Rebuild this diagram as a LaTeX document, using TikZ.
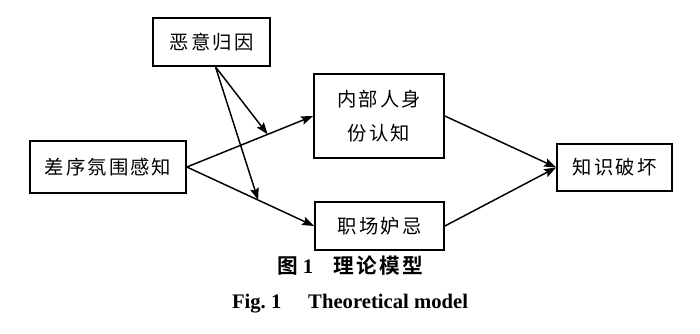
\documentclass[tikz,border=0pt]{standalone}
\usepackage{fontspec}
\setmainfont{Liberation Serif}
\newfontfamily\cjk[LetterSpace=11]{Noto Sans CJK SC}
\newfontfamily\cjkcap[LetterSpace=10,BoldFont={Noto Sans CJK SC Bold}]{Noto Sans CJK SC}
\usetikzlibrary{arrows.meta}
\begin{document}
\begin{tikzpicture}[
  x=0.75pt, y=-0.75pt,
  every node/.style={draw, line width=1.3pt, inner sep=0pt, align=center, font=\cjk\fontsize{14.5}{26}\selectfont},
  link/.style={draw, line width=1.1pt, -{Stealth[length=9pt,width=6.5pt,inset=1.5pt]}},
  caption/.style={draw=none, font=\bfseries\fontsize{15.5}{18}\selectfont}
]
\useasboundingbox (0,0) rectangle (700,333);
\node[minimum width=87.75pt, minimum height=36pt] (attrib) at (211.5,42) {恶意归因};
\node[minimum width=117pt, minimum height=39pt] (climate) at (108,167) {差序氛围感知};
\node[minimum width=97.5pt, minimum height=63pt] (insider) at (379,116) {内部人身\\份认知};
\node[minimum width=96.75pt, minimum height=36pt] (envy) at (379.5,226) {职场妒忌};
\node[minimum width=86.25pt, minimum height=35.25pt] (sabotage) at (614.5,167.5) {知识破坏};

\draw[link] (climate.east) -- (insider.west) coordinate[pos=0.64] (upmid);
\draw[link] (climate.east) -- (envy.west) coordinate[pos=0.56] (lowmid);
\draw[link] ([xshift=3pt]attrib.south) -- (upmid);
\draw[link] ([xshift=3pt]attrib.south) -- (lowmid);
\draw[link] (insider.east) -- (sabotage.west);
\draw[link] (envy.east) -- (sabotage.west);

\node[caption] (capzh) at (350,266) {{\cjkcap 图}\ 1\quad{\cjkcap 理论模型}};
\node[caption, anchor=base] (capen) at (350,308) {Fig.~1\hspace{1.3em}Theoretical model};
\end{tikzpicture}
\end{document}
